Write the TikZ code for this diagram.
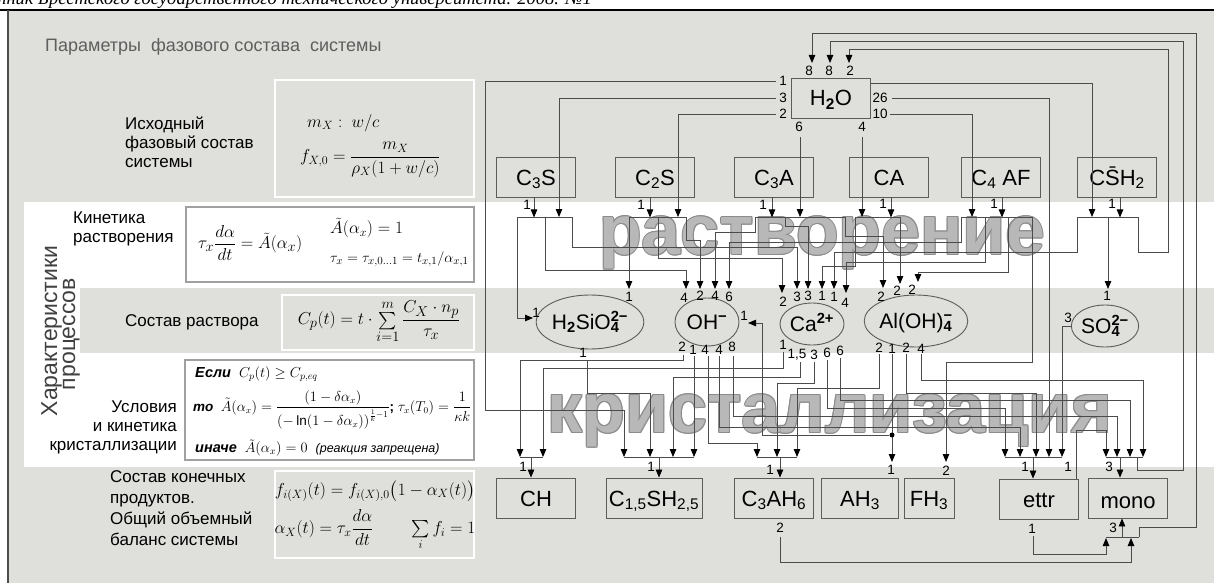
\documentclass[tikz,border=0pt]{standalone}
\usepackage{amsmath}
\usepackage{fontspec}
\setmainfont{Liberation Sans}
\newfontfamily\headfont{Liberation Serif}
\usetikzlibrary{arrows.meta,shapes.geometric}

\definecolor{panel}{HTML}{DFDFDB}
\definecolor{wirec}{HTML}{4B4B4B}
\definecolor{boxc}{HTML}{5C5C5C}
\definecolor{framec}{HTML}{A0A0A0}
\definecolor{titlec}{HTML}{5E5E5E}
\definecolor{markc}{HTML}{B8B8B8}
\definecolor{markedge}{HTML}{8C8C8C}

% superscript over subscript (ion charges)
\newcommand\supsub[2]{\sbox0{\textsuperscript{\bfseries #1}}\sbox2{\textsubscript{\bfseries #2}}\ooalign{\usebox0\cr\usebox2\cr}}

\tikzset{
  wire/.style={draw=wirec, line width=0.8pt},
  arr/.style={wire, -{Triangle[length=8pt,width=6.5pt,color=black]}},
  chem/.style={draw=boxc, line width=0.9pt, minimum width=79pt, minimum height=40pt, inner sep=0pt, text height=18pt, text depth=2pt, font=\fontsize{22}{24}\selectfont},
  ion/.style={ellipse, draw=boxc, line width=0.9pt, inner sep=0pt, text height=17pt, text depth=2pt, font=\fontsize{21}{23}\selectfont},
  num/.style={font=\fontsize{13.5}{14}\selectfont, inner sep=0pt},
  lbl/.style={font=\fontsize{17}{19}\selectfont, inner sep=0pt},
  panelbox/.style={draw=white, line width=2pt, fill=panel},
  whitebox/.style={draw=framec, line width=2pt, fill=white},
  fml/.style={font=\fontsize{16.5}{19}\selectfont, inner sep=0pt},
  small/.style={font=\fontsize{14.5}{17}\selectfont, inner sep=0pt},
  wmark/.style={font=\fontsize{70}{70}\selectfont\bfseries, text=markc, inner sep=0pt},
  dotc/.style={circle, fill=black, inner sep=0pt, minimum size=5pt},
}

\begin{document}
\begin{tikzpicture}[x=1pt,y=-1pt]
\useasboundingbox (0,0) rectangle (1214,583);
\clip (0,0) rectangle (1214,583);

% page header and frame
\node[anchor=base east, font=\headfont\itshape\fontsize{18.5}{21}\selectfont, inner sep=0pt] (head) at (592,5) {Вестник Брестского государственного технического университета. 2008. №1};
\fill[panel] (8,10) rectangle (1214,583);
\fill[white] (24,202) rectangle (1214,467);
\fill[panel] (80,288) rectangle (1214,353);
\draw[black, line width=1.2pt] (0,10) -- (1214,10);
\draw[black!70, line width=1.5pt] (8,10) -- (8,583);

% left column
\node[anchor=west, font=\fontsize{18}{22}\selectfont, text=titlec, inner sep=0pt] (title) at (45,47) {Параметры\ \ фазового состава\ \ системы};
\node[rotate=90, anchor=base, font=\fontsize{23}{26}\selectfont, text=black!75, inner sep=0pt] (char1) at (57,331) {Характеристики};
\node[rotate=90, anchor=base, font=\fontsize{23}{26}\selectfont, text=black!75, inner sep=0pt] (char2) at (75,334) {процессов};

\node[lbl, anchor=west, align=left] (lab1) at (125,142) {Исходный\\фазовый состав\\системы};
\node[lbl, anchor=west, align=left] (lab2) at (73,229) {Кинетика\\растворения};
\node[lbl, anchor=west] (lab3) at (125,322) {Состав раствора};
\node[lbl, anchor=east, align=right] (lab4) at (177,427) {Условия\\и кинетика\\кристаллизации};
\node[lbl, anchor=west, align=left, font=\fontsize{17}{21}\selectfont] (lab5) at (110,508) {Состав конечных\\продуктов.\\Общий объемный\\баланс системы};

\draw[panelbox] (275,80) rectangle (474,197);
\node[fml, anchor=west] (f1a) at (307,123) {$m_X :\ w/c$};
\node[fml, anchor=west] (f1b) at (300,160) {$f_{X,0} = \dfrac{m_X}{\rho_X(1+w/c)}$};

\draw[whitebox] (186,207) rectangle (474,282);
\node[fml, anchor=west, font=\fontsize{19}{21}\selectfont] (f2a) at (198,243) {$\tau_x\dfrac{d\alpha}{dt} = \tilde{A}(\alpha_x)$};
\node[fml, anchor=west, font=\fontsize{17.5}{19}\selectfont] (f2b) at (330,228) {$\tilde{A}(\alpha_x) = 1$};
\node[fml, anchor=west, font=\fontsize{15.5}{17}\selectfont] (f2c) at (330,259) {$\tau_x = \tau_{x,0\ldots1} = t_{x,1}/\alpha_{x,1}$};

\draw[panelbox] (282,295) rectangle (474,350);
\node[fml, font=\fontsize{19}{21}\selectfont] (f3) at (379,322) {$C_p(t) = t\cdot\sum\limits_{i=1}^{m}\dfrac{C_X\cdot n_p}{\tau_x}$};

\draw[whitebox] (185,360) rectangle (474,460);
\node[small, anchor=west] (f4a) at (195,374) {\textbf{\textit{Если}}\ \ $C_p(t)\ge C_{p,eq}$};
\node[small, anchor=west, font=\fontsize{13.5}{16}\selectfont] (f4b) at (193,410) {\textbf{\textit{то}}\ \ $\tilde{A}(\alpha_x) = \dfrac{(1-\delta\alpha_x)}{\left(-\ln(1-\delta\alpha_x)\right)^{\frac{1}{k}-1}}$\textbf{;} $\tau_x(T_0) = \dfrac{1}{\kappa k}$};
\node[small, anchor=west] (f4c) at (195,448) {\textbf{\textit{иначе}}\ \ $\tilde{A}(\alpha_x) = 0$\ \ {\fontsize{12.5}{14}\selectfont\textit{(реакция запрещена)}}};

\draw[panelbox] (275,471) rectangle (474,558);
\node[fml, font=\fontsize{17.5}{19}\selectfont] (f5a) at (375,491) {$f_{i(X)}(t) = f_{i(X),0}\bigl(1-\alpha_X(t)\bigr)$};
\node[fml, font=\fontsize{17.5}{19}\selectfont] (f5b) at (375,530) {$\alpha_X(t) = \tau_x\dfrac{d\alpha}{dt}\qquad\sum\limits_i f_i = 1$};

% stage names, outlined
\foreach \dx/\dy in {-1/0, 1/0, 0/-1, 0/1, -0.7/-0.7, 0.7/0.7, -0.7/0.7, 0.7/-0.7} {
  \node[wmark, text=markedge] at (822+\dx,243+\dy) {растворение};
  \node[wmark, text=markedge] at (830+\dx,421+\dy) {кристаллизация};
}
\node[wmark] (wm1) at (822,243) {растворение};
\node[wmark] (wm2) at (830,421) {кристаллизация};

% clinker phases and water
\node[chem] (h2o) at (831,98) {H\textsubscript{\bfseries 2}O};
\node[chem] (c3s) at (536,177) {C\textsubscript{3}S};
\node[chem] (c2s) at (655,177) {C\textsubscript{2}S};
\node[chem] (c3a) at (774,177) {C\textsubscript{3}A};
\node[chem] (ca) at (889,177) {CA};
\node[chem] (c4af) at (1001,177) {C\textsubscript{4} AF};
\node[chem] (csh) at (1117,177) {C\={S}H\textsubscript{2}};

% ions in solution
\node[ion, minimum width=104pt, minimum height=54pt] (h2sio4) at (590,322) {H\textsubscript{\bfseries 2}SiO\supsub{2−}{4}};
\node[ion, minimum width=64pt, minimum height=48pt] (oh) at (707,322) {OH\textsuperscript{\bfseries −}};
\node[ion, minimum width=64pt, minimum height=42pt] (ca2) at (812,324) {Ca\textsuperscript{\bfseries 2+}};
\node[ion, minimum width=102pt, minimum height=52pt] (aloh) at (916,321) {Al(OH)\supsub{−}{4}};
\node[ion, minimum width=64pt, minimum height=42pt] (so4) at (1105,326) {SO\supsub{2−}{4}};

% hydration products
\node[chem] (ch) at (536,498) {CH};
\node[chem, minimum width=96pt] (cssh) at (654,498) {C\textsubscript{1,5}SH\textsubscript{2,5}};
\node[chem] (c3ah6) at (774,498) {C\textsubscript{3}AH\textsubscript{6}};
\node[chem, minimum width=77pt] (ah3) at (860,498) {AH\textsubscript{3}};
\node[chem, minimum width=50pt] (fh3) at (929,498) {FH\textsubscript{3}};
\node[chem] (ettr) at (1039,499) {ettr};
\node[chem, text height=20pt, text depth=0pt] (mono) at (1128,498) {mono};

% water returned to H2O
\draw[arr] (1139,537) |- (1196,527) |- (812,33) -- (812,63);
\draw[arr] (1137,457) |- (1183,470) |- (830,41) -- (830,63);
\draw[arr] (1138,217) |- (1168,252) |- (849,49) -- (849,63);

% water consumed
\draw[arr] (h2o.east |- 0,83) -| (1092,217);
\draw[arr] (892,98) -| (1049,457);
\draw[arr] (890,114) -| (972,217);
\draw[arr] (862,137) -- (862,217);
\draw[arr] (800,137) -- (800,217);
\draw[arr] (776,114) -| (678,217);
\draw[arr] (776,98) -| (559,217);
\draw[arr] (776,81) -| (485,410) -| (624,457);

% dissolution
\draw[arr] ([xshift=-2pt]c3s.south) -- ++(0,20);
\draw[arr] ([xshift=-5pt]c2s.south) -- ++(0,20);
\draw[arr] ([xshift=-2pt]c3a.south) -- ++(0,20);
\draw[arr] ([xshift=2pt]ca.south) -- ++(0,20);
\draw[arr] ([xshift=1pt]c4af.south) -- ++(0,20);
\draw[arr] ([xshift=3pt]csh.south) -- ++(0,20);
\draw[wire] (517,217) -- (572,217);
\draw[wire] (629,217) -- (686,217);
\draw[wire] (755,217) -- (845,217);
\draw[wire] (855,217) -- (900,217);
\draw[wire] (961,217) -- (1032,217);
\draw[wire] (1077,217) -- (1138,217);

\draw[arr] (517,217) |- (533,318);
\draw[arr] (545,217) |- (686,270) -- (686,289);
\draw[arr] (572,217) |- (797,247) -- (797,289);
\draw[arr] (629,217) -- (629,289);
\draw[arr] (658,217) |- (782,258) -- (782,293);
\draw[arr] (686,217) |- (700,240) -- (700,289);
\draw[arr] (755,217) |- (715,232) -- (715,289);
\draw[arr] (785,217) |- (808,226) -- (808,289);
\draw[arr] (845,217) |- (883,236) -- (883,288);
\draw[arr] (855,217) |- (822,266) -- (822,289);
\draw[arr] (900,217) -- (900,284);
\draw[arr] (961,217) |- (729,242) -- (729,289);
\draw[arr] (985,217) |- (846,262) -- (846,293);
\draw[arr] (1008,217) |- (918,272) -- (918,282);
\draw[arr] (1032,217) |- (946,362) -- (946,462);
\draw[arr] (1077,217) |- (834,252) -- (834,289);
\draw[arr] (1108,217) -- (1108,289);
\draw[arr] (so4.west) -| (1062,457);

% crystallisation
\draw[wire] (520,457) -- (543,457);
\draw[arr] (531,457) -- (ch.north -| 531,0);
\draw[arr] (683,355) |- (520,360) -- (520,457);
\draw[arr] (783,352) |- (543,368) -- (543,457);

\draw[wire] (624,457) -- (694,457);
\draw[arr] (659,457) -- (cssh.north -| 659,0);
\draw[arr] (587,360) |- (650,393) -- (650,457);
\draw[arr] (800,362) |- (673,377) -- (673,457);
\draw[arr] (694,356) -- (694,457);

\draw[wire] (757,457) -- (797,457);
\draw[arr] (780,457) -- (c3ah6.north -| 780,0);
\draw[arr] (708,356) |- (757,443) -- (757,457);
\draw[arr] (814,362) |- (777,383) -- (777,457);
\draw[arr] (879,354) |- (797,388) -- (797,457);

\draw[arr] (892,354) -- (892,462);
\node[dotc] (split) at (892,435) {};
\draw[arr] (split) -| (762,323) -- (748,323);

\draw[wire] (1005,457) -- (1062,457);
\draw[arr] (1033,457) -- (ettr.north -| 1033,0);
\draw[arr] (827,360) |- (1005,408) -- (1005,457);
\draw[arr] (719,356) |- (1020,427) -- (1020,457);
\draw[arr] (906,354) |- (1036,393) -- (1036,457);

\draw[wire] (1106,457) -- (1143,457);
\draw[arr] (1120,457) -- (mono.north -| 1120,0);
\draw[arr] ([xshift=-3pt]ettr.north east) |- (1106,430) -- (1106,457);
\draw[arr] (733,356) |- (1117,416) -- (1117,457);
\draw[arr] (840,358) |- (1130,400) -- (1130,457);
\draw[arr] (921,354) |- (1143,380) -- (1143,457);

% mono from ettr and C3AH6
\draw[wire] (1106,537) -- (1139,537);
\draw[arr] (1122,537) -- (mono.south -| 1122,0);
\draw[arr] (1033,536) |- (1106,554) -- (1106,538);
\draw[arr] (780,537) |- (1131,562) -- (1131,538);

% stoichiometric numbers
\foreach \x/\y/\t [count=\i] in {809/71/8, 829/71/8, 850/71/2, 783/81/1, 783/98/3, 783/114/2, 799/127/6, 862/127/4, 880/98/26, 880/114/10,
  527/205/1, 641/205/1, 763/205/1, 883/204/1, 994/204/1, 1112/204/1,
  536/313/1, 629/297/1, 684/298/4, 700/296/2, 715/296/4, 729/297/6,
  783/302/2, 797/297/3, 808/296/3, 822/296/1, 834/297/1, 845/303/4,
  881/297/2, 897/291/2, 912/290/2, 744/316/1, 1107/296/1, 1068/318/3,
  583/353/1, 682/347/2, 693/350/1, 705/350/4, 719/350/4, 732/347/8,
  783/345/1, 797/355/{1,5}, 814/355/3, 827/353/6, 840/351/6,
  879/348/2, 892/349/1, 906/348/2, 921/349/4,
  523/467/1, 651/467/1, 770/470/1, 780/528/2, 891/470/1, 946/471/2,
  1025/467/1, 1068/467/1, 1032/529/1, 1109/467/3, 1113/528/3}
  \node[num] (n\i) at (\x,\y) {\t};
\end{tikzpicture}
\end{document}
